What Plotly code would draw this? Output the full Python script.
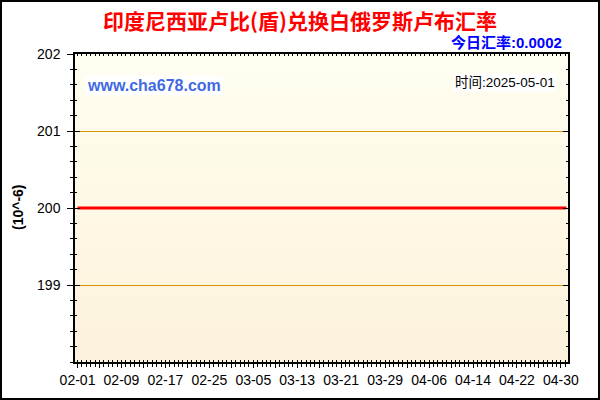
import base64
import struct
import zlib

import pandas as pd
import plotly.graph_objects as go

# ---------------- data ----------------
start_date = "2025-02-01"
end_date = "2025-05-01"
dates = pd.date_range(start_date, end_date, freq="D")
# rate in units of 10^-6 (0.0002 = 200e-6), constant over the period
rates = [
    200, 200, 200, 200, 200, 200, 200, 200, 200, 200,
    200, 200, 200, 200, 200, 200, 200, 200, 200, 200,
    200, 200, 200, 200, 200, 200, 200, 200, 200, 200,
    200, 200, 200, 200, 200, 200, 200, 200, 200, 200,
    200, 200, 200, 200, 200, 200, 200, 200, 200, 200,
    200, 200, 200, 200, 200, 200, 200, 200, 200, 200,
    200, 200, 200, 200, 200, 200, 200, 200, 200, 200,
    200, 200, 200, 200, 200, 200, 200, 200, 200, 200,
    200, 200, 200, 200, 200, 200, 200, 200, 200, 200,
]
x_tick_labels = ["02-01", "02-09", "02-17", "02-25", "03-05", "03-13",
                 "03-21", "03-29", "04-06", "04-14", "04-22", "04-30"]
y_tick_values = [199, 200, 201, 202]
y_range = [198, 202]
x_range = ["2025-01-31 13:00", "2025-05-01 07:00"]

title_text = "印度尼西亚卢比(盾)兑换白俄罗斯卢布汇率"
rate_text = "今日汇率:0.0002"
site_text = "www.cha678.com"
time_text = "时间:2025-05-01"
unit_text = "(10^-6)"

# ---------------- layout geometry ----------------
W, H = 600, 400
L, R, T, B = 75, 32, 54, 38
PW, PH = W - L - R, H - T - B


def px(x):
    return (x - L) / PW


def py(y):
    return (H - B - y) / PH


# major ticks every 4 days, labels every 8 days
major_ticks = pd.date_range("2025-02-01", "2025-04-30", freq="4D")
tick_text = [d.strftime("%m-%d") if d.strftime("%m-%d") in x_tick_labels else ""
             for d in major_ticks]


# ---------------- gradient background image ----------------
def gradient_png(top, bottom, h=128):
    rows = b""
    for i in range(h):
        t = i / (h - 1)
        rgb = bytes(round(top[k] + (bottom[k] - top[k]) * t) for k in range(3))
        rows += b"\x00" + rgb

    def chunk(tag, data):
        return (struct.pack(">I", len(data)) + tag + data
                + struct.pack(">I", zlib.crc32(tag + data) & 0xFFFFFFFF))

    ihdr = struct.pack(">IIBBBBB", 1, h, 8, 2, 0, 0, 0)
    png = (b"\x89PNG\r\n\x1a\n" + chunk(b"IHDR", ihdr)
           + chunk(b"IDAT", zlib.compress(rows)) + chunk(b"IEND", b""))
    return "data:image/png;base64," + base64.b64encode(png).decode()


bg_src = gradient_png((255, 254, 241), (253, 242, 219))

fig = go.Figure()
fig.add_trace(go.Scatter(
    x=dates, y=rates, mode="lines",
    line=dict(color="#FF0000", width=3),
    showlegend=False, hoverinfo="skip",
))
# empty trace so the overlay (inside-tick) axes are drawn
fig.add_trace(go.Scatter(x=[], y=[], xaxis="x2", yaxis="y2",
                         showlegend=False, hoverinfo="skip"))

tick_font = dict(family="Liberation Sans, Arial, sans-serif", size=14, color="#000000")

fig.update_layout(
    template="none",
    width=W, height=H,
    margin=dict(l=L, r=R, t=T, b=B, pad=0),
    paper_bgcolor="#FFFFFF",
    plot_bgcolor="#FEF8E6",
    showlegend=False,
    title=dict(
        text=title_text, x=0.5, xanchor="center", y=1 - 22 / H, yanchor="middle",
        font=dict(family="Noto Sans CJK SC, sans-serif", size=21, color="#FF0000",
                  weight="bold"),
    ),
    xaxis=dict(
        type="date", range=x_range,
        tickmode="array", tickvals=list(major_ticks), ticktext=tick_text,
        ticks="outside", ticklen=4, tickwidth=1, tickcolor="#000000",
        minor=dict(dtick=0.8 * 86400000, tick0="2025-02-01", ticks="outside",
                   ticklen=3, tickcolor="#000000", showgrid=False),
        showgrid=False, zeroline=False,
        showline=True, linecolor="#000000", linewidth=1.5, mirror=True,
        tickfont=tick_font,
    ),
    xaxis2=dict(
        type="date", range=x_range, overlaying="x", anchor="y", side="bottom",
        tickmode="array", tickvals=list(major_ticks), ticktext=[""] * len(major_ticks),
        ticks="inside", ticklen=3, tickwidth=1, tickcolor="#000000", mirror="ticks",
        minor=dict(dtick=0.8 * 86400000, tick0="2025-02-01", ticks="inside",
                   ticklen=2, tickcolor="#000000", showgrid=False),
        showgrid=False, zeroline=False, showline=False, showticklabels=False,
    ),
    yaxis=dict(
        range=y_range, tickmode="array", tickvals=y_tick_values,
        ticks="outside", ticklen=6, tickwidth=1, tickcolor="#000000",
        minor=dict(dtick=0.2, tick0=198, ticks="outside", ticklen=3,
                   tickcolor="#000000", showgrid=False),
        showgrid=True, gridcolor="#D29600", gridwidth=1, zeroline=False,
        showline=True, linecolor="#000000", linewidth=1.5, mirror=True,
        tickfont=tick_font, ticklabelstandoff=4,
    ),
    yaxis2=dict(
        range=y_range, overlaying="y", anchor="x", side="left",
        tickmode="array", tickvals=y_tick_values,
        ticks="inside", ticklen=5, tickwidth=1, tickcolor="#000000", mirror="ticks",
        minor=dict(dtick=0.2, tick0=198, ticks="inside", ticklen=2,
                   tickcolor="#000000", showgrid=False),
        showgrid=False, zeroline=False, showline=False, showticklabels=False,
    ),
    images=[dict(
        source=bg_src, xref="paper", yref="paper", x=0, y=1,
        sizex=1, sizey=1, xanchor="left", yanchor="top",
        sizing="stretch", layer="below",
    )],
    shapes=[dict(
        type="rect", xref="paper", yref="paper",
        x0=px(1), x1=px(599), y0=py(399), y1=py(1),
        line=dict(color="#000000", width=2), fillcolor="rgba(0,0,0,0)",
    )],
    annotations=[
        dict(text=rate_text, xref="paper", yref="paper", x=px(564), y=py(43),
             xanchor="right", yanchor="middle", showarrow=False,
             font=dict(family="Liberation Sans, Noto Sans CJK SC, sans-serif",
                       size=15, color="#0000FF", weight="bold")),
        dict(text=site_text, xref="paper", yref="paper", x=px(85), y=py(85),
             xanchor="left", yanchor="middle", showarrow=False,
             bgcolor="#FFFFFF", borderpad=1,
             font=dict(family="Liberation Sans, Arial, sans-serif",
                       size=16, color="#4169E1", weight="bold")),
        dict(text=time_text, xref="paper", yref="paper", x=px(557), y=py(82),
             xanchor="right", yanchor="middle", showarrow=False,
             bgcolor="#FFFFFF", borderpad=1,
             font=dict(family="Liberation Sans, Noto Sans CJK SC, sans-serif",
                       size=13.5, color="#000000")),
        dict(text=unit_text, xref="paper", yref="paper", x=px(18), y=py(207),
             xanchor="center", yanchor="middle", showarrow=False, textangle=-90,
             font=dict(family="Liberation Sans, Arial, sans-serif",
                       size=14, color="#000000", weight="bold")),
    ],
)

fig.write_html(
    "out.html",
    config={"displayModeBar": False},
    post_script="document.body.style.margin='0px';document.body.style.padding='0px';",
)
